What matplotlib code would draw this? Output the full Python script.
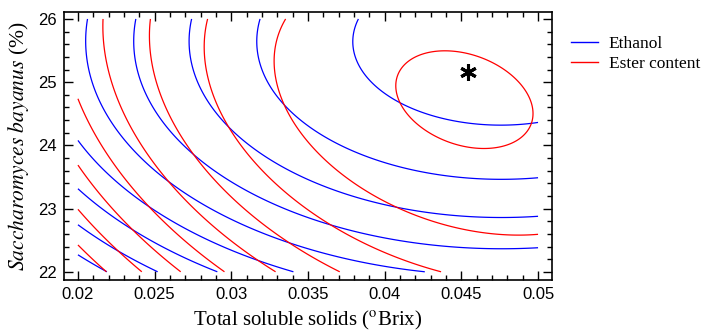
import numpy as np
import matplotlib
matplotlib.use('Agg')
import matplotlib.pyplot as plt
from matplotlib.ticker import MultipleLocator

# points read off each contour line of the reference (x = TSS, y = S. bayanus)
# one list per contour, from the lowest level (lower left) to the highest
ethanol_x = [
    [0.0200, 0.02091, 0.02183],
    [0.0200, 0.02143, 0.02318, 0.02509],
    [0.0200, 0.02209, 0.02426, 0.02644, 0.02889],
    [0.0200, 0.02143, 0.02318, 0.02513, 0.02752, 0.02991, 0.03372],
    [0.02065, 0.02059, 0.02065, 0.02091, 0.02143, 0.02222, 0.02372, 0.02554, 0.02796, 0.03057, 0.03383, 0.03709, 0.04185],
    [0.02378, 0.02372, 0.02385, 0.02424, 0.02489, 0.02580, 0.02718, 0.02907, 0.03057, 0.03383, 0.03709, 0.04035, 0.04492, 0.04752, 0.05000],
    [0.02743, 0.02724, 0.02750, 0.02841, 0.02959, 0.03057, 0.03337, 0.03598, 0.03924, 0.04185, 0.04491, 0.04752, 0.05000],
    [0.03180, 0.03167, 0.03187, 0.03252, 0.03331, 0.03468, 0.03624, 0.03970, 0.04185, 0.04491, 0.04752, 0.05000],
    [0.03833, 0.03807, 0.03796, 0.03818, 0.03872, 0.03991, 0.04100, 0.04274, 0.04535, 0.04752, 0.05000],
]
ethanol_y = [
    [22.253, 22.126, 22.0],
    [22.732, 22.454, 22.242, 22.0],
    [23.308, 22.928, 22.612, 22.348, 22.0],
    [24.076, 23.719, 23.349, 22.980, 22.664, 22.400, 22.0],
    [25.984, 25.668, 25.352, 24.988, 24.640, 24.293, 23.850, 23.455, 23.091, 22.727, 22.459, 22.237, 22.0],
    [25.984, 25.668, 25.304, 24.925, 24.609, 24.293, 23.897, 23.565, 23.328, 22.980, 22.711, 22.538, 22.395, 22.364, 22.364],
    [25.984, 25.621, 25.146, 24.672, 24.356, 24.119, 23.613, 23.344, 23.107, 22.980, 22.870, 22.854, 22.870],
    [25.984, 25.621, 25.146, 24.877, 24.640, 24.356, 24.119, 23.818, 23.613, 23.486, 23.470, 23.502],
    [25.984, 25.779, 25.621, 25.352, 25.083, 24.798, 24.640, 24.514, 24.356, 24.324, 24.403],
]

ester_x = [
    [0.0200, 0.02165],
    [0.0200, 0.02143, 0.02274, 0.02393],
    [0.0200, 0.02143, 0.02318, 0.02491, 0.02648],
    [0.0200, 0.02059, 0.02124, 0.02209, 0.02358, 0.02535, 0.02730, 0.02939],
    [0.02176, 0.02169, 0.02189, 0.02228, 0.02293, 0.02385, 0.02470, 0.02567, 0.02841, 0.03057, 0.03272],
    [0.02483, 0.02476, 0.02483, 0.02515, 0.02580, 0.02665, 0.02724, 0.02972, 0.03220, 0.03415, 0.03559, 0.03689],
    [0.02854, 0.02828, 0.02828, 0.02874, 0.02972, 0.03057, 0.03187, 0.03370, 0.03611, 0.03924, 0.04185, 0.04374],
    [0.03363, 0.03298, 0.03278, 0.03298, 0.03331, 0.03402, 0.03494, 0.03663, 0.03885, 0.04100, 0.04276, 0.04491, 0.04687, 0.05000],
    [0.04056, 0.04089, 0.04165, 0.04274, 0.04405, 0.04535, 0.04665, 0.04796, 0.04894, 0.04948,
     0.04937, 0.04883, 0.04774, 0.04622, 0.04470, 0.04340, 0.04209, 0.04111],
]
ester_y = [
    [22.375, 22.0],
    [22.938, 22.612, 22.296, 22.0],
    [23.640, 23.297, 22.875, 22.454, 22.0],
    [24.719, 24.403, 24.134, 23.771, 23.407, 22.980, 22.506, 22.0],
    [25.984, 25.668, 25.241, 24.830, 24.451, 24.087, 23.771, 23.486, 22.870, 22.396, 22.0],
    [25.984, 25.668, 25.241, 24.877, 24.514, 24.198, 23.897, 23.296, 22.759, 22.395, 22.190, 22.0],
    [25.984, 25.621, 25.241, 24.767, 24.324, 23.992, 23.581, 23.202, 22.791, 22.396, 22.143, 22.0],
    [25.984, 25.621, 25.194, 24.830, 24.609, 24.293, 24.040, 23.660, 23.297, 22.980, 22.791, 22.680, 22.601, 22.617],
    [24.930, 25.167, 25.352, 25.458, 25.483, 25.431, 25.325, 25.142, 24.877, 24.614,
     24.351, 24.139, 24.008, 23.940, 23.981, 24.087, 24.272, 24.561],
]

# optimum marked with the asterisk
opt_x = [0.04543]
opt_y = [25.16]

x_range = [0.02, 0.05]
y_range = [22, 26]


def fit_surface(xs, ys):
    # second order response surface through the traced contours
    px, py, lv = [], [], []
    for k, (cx, cy) in enumerate(zip(xs, ys), start=1):
        px += cx
        py += cy
        lv += [k] * len(cx)
    u = (np.array(px) - 0.035) / 0.015
    v = (np.array(py) - 24) / 2
    A = np.column_stack([np.ones_like(u), u, v, u * u, v * v, u * v])
    coef = np.linalg.lstsq(A, np.array(lv, float), rcond=None)[0]
    return coef


def surface(coef, X, Y):
    u = (X - 0.035) / 0.015
    v = (Y - 24) / 2
    return coef[0] + coef[1] * u + coef[2] * v + coef[3] * u * u + coef[4] * v * v + coef[5] * u * v


plt.rcParams['mathtext.fontset'] = 'stix'
serif = ['Liberation Serif', 'DejaVu Serif']
narrow = ['Liberation Sans Narrow', 'Liberation Sans', 'DejaVu Sans']

fig = plt.figure(figsize=(7.07, 3.36), dpi=100)
ax = fig.add_axes([64 / 707, 1 - 280 / 336, 488 / 707, 268 / 336])

gx = np.linspace(x_range[0], x_range[1], 400)
gy = np.linspace(y_range[0], y_range[1], 400)
X, Y = np.meshgrid(gx, gy)

Z_eth = surface(fit_surface(ethanol_x, ethanol_y), X, Y)
Z_est = surface(fit_surface(ester_x, ester_y), X, Y)

ax.contour(X, Y, Z_eth, levels=np.arange(1, len(ethanol_x) + 1), colors='#0000ff', linewidths=0.9)
ax.contour(X, Y, Z_est, levels=np.arange(1, len(ester_x) + 1), colors='#ff0000', linewidths=0.9)

ax.plot(opt_x, opt_y, linestyle='none', marker=(6, 2, 0), ms=12, mew=2.2, color='black')

# legend entries
ax.plot([], [], color='#0000ff', lw=1, label='Ethanol')
ax.plot([], [], color='#ff0000', lw=1, label='Ester content')
fig.legend(loc='upper left', bbox_to_anchor=(562 / 707, 1 - 27 / 336), frameon=False,
           borderpad=0, handlelength=1.6, handletextpad=0.6, labelspacing=0.25,
           prop={'family': serif, 'size': 12.5})

ax.set_xlim(0.01909, 0.05091)
ax.set_ylim(21.87, 26.11)
ax.xaxis.set_major_locator(MultipleLocator(0.005))
ax.xaxis.set_minor_locator(MultipleLocator(0.001))
ax.yaxis.set_major_locator(MultipleLocator(1))
ax.yaxis.set_minor_locator(MultipleLocator(0.2))
ax.set_xticks([0.02, 0.025, 0.03, 0.035, 0.04, 0.045, 0.05])
ax.set_xticklabels(['0.02', '0.025', '0.03', '0.035', '0.04', '0.045', '0.05'])
ax.tick_params(which='both', direction='in', top=True, right=True, width=1)
ax.tick_params(which='major', length=6.5, pad=5)
ax.tick_params(which='minor', length=3.5)
for lab in ax.get_xticklabels() + ax.get_yticklabels():
    lab.set_family(narrow)
    lab.set_fontsize(12)
for s in ax.spines.values():
    s.set_linewidth(1.2)

ax.set_xlabel(r'Total soluble solids ($^{\mathrm{o}}$Brix)', family=serif, fontsize=15, labelpad=5)
ax.set_ylabel(r'$\mathit{Saccharomyces\ bayanus}$ (%)', family=serif, fontsize=15.5, labelpad=5)

fig.savefig('out.png', dpi=100)
